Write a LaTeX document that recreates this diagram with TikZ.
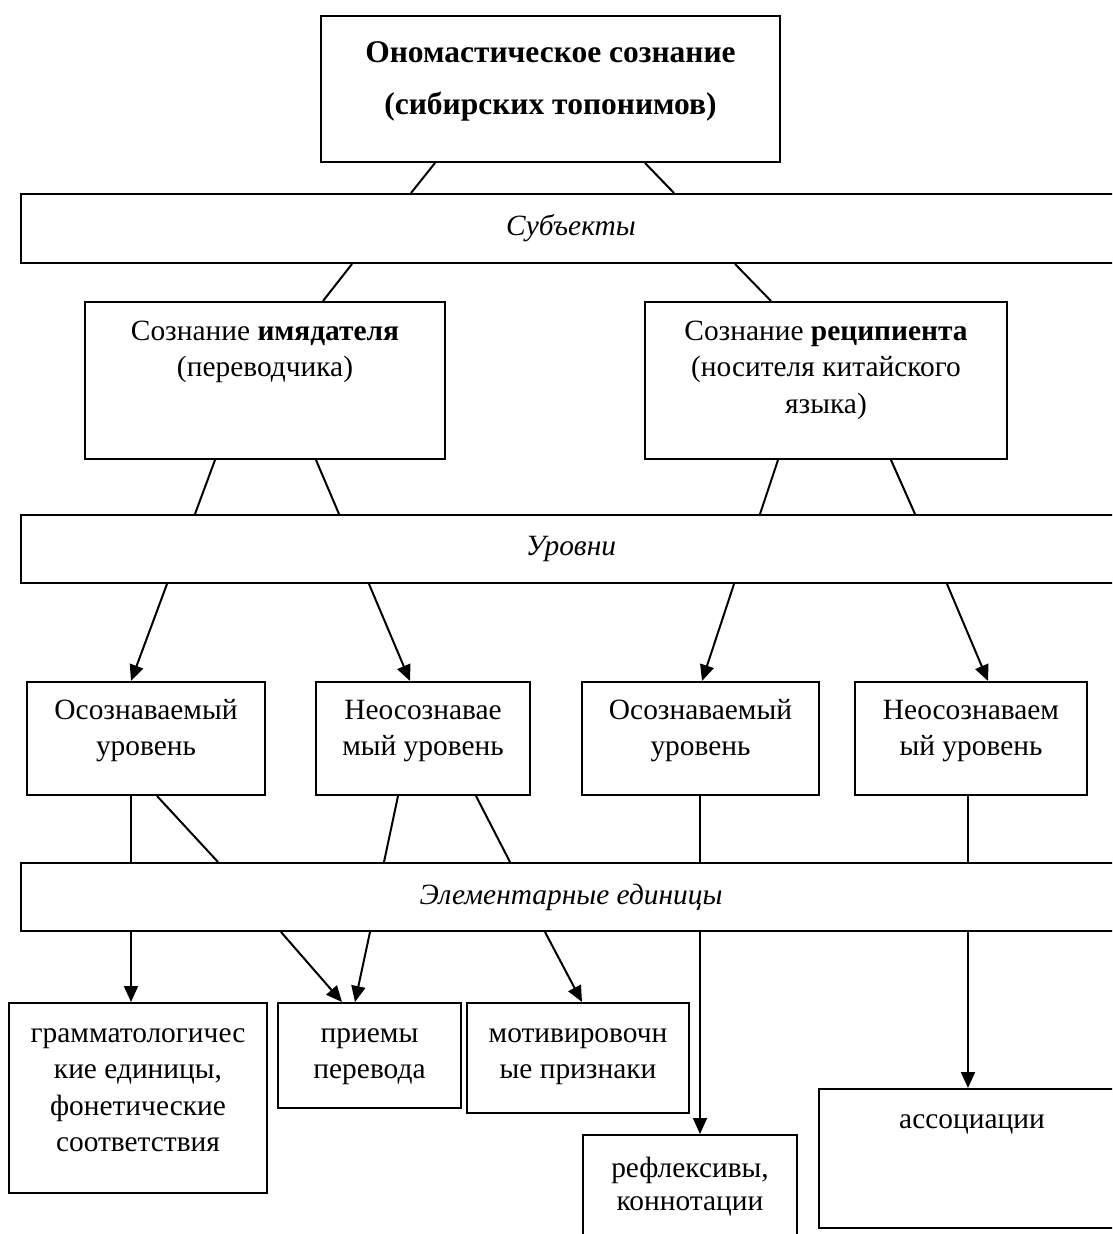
\documentclass[tikz,border=0pt]{standalone}
\usepackage{fontspec}
\setmainfont{Liberation Serif}
\usetikzlibrary{arrows.meta}
\newcommand{\fsz}{\fontsize{29.4pt}{36.5pt}\selectfont}
\newcommand{\fszr}{\fontsize{29.4pt}{33pt}\selectfont}
\newcommand{\fsbig}{\fontsize{31.5pt}{52pt}\selectfont\bfseries}
\begin{document}
\begin{tikzpicture}[x=1pt,y=-1pt,
  box/.style={draw,line width=2pt,rectangle,inner sep=0pt,fill=white},
  bar/.style={box,minimum width=1100pt,minimum height=68pt,font=\fsz\itshape},
  lbl/.style={inner sep=0pt,align=center,anchor=north,font=\fsz},
  conn/.style={line width=2pt},
  arr/.style={line width=2pt,-{Triangle[length=16pt,width=14pt]}}]
\useasboundingbox (0,0) rectangle (1112,1234);
\clip (0,0) rectangle (1112,1234);
\fill[white] (0,0) rectangle (1112,1234);
% boxes
\node[box,minimum width=459pt,minimum height=146pt] (top) at (550.5,89) {};
\node[bar,minimum height=69pt] (subj) at (571,228.5) {Субъекты};
\node[box,minimum width=360pt,minimum height=157pt] (imya) at (265,380.5) {};
\node[box,minimum width=362pt,minimum height=157pt] (recip) at (826,380.5) {};
\node[bar] (lev) at (571,549) {Уровни};
\node[box,minimum width=238pt,minimum height=113pt] (L1) at (146,738.5) {};
\node[box,minimum width=214pt,minimum height=113pt] (L2) at (423,738.5) {};
\node[box,minimum width=237pt,minimum height=113pt] (L3) at (700.5,738.5) {};
\node[box,minimum width=232pt,minimum height=113pt] (L4) at (971,738.5) {};
\node[bar] (elem) at (571,897) {Элементарные единицы};
\node[box,minimum width=258pt,minimum height=190pt] (G) at (138,1098) {};
\node[box,minimum width=183pt,minimum height=105pt] (P) at (369.5,1055.5) {};
\node[box,minimum width=222pt,minimum height=110pt] (M) at (578,1058) {};
\node[box,minimum width=214pt,minimum height=140pt] (R) at (690,1205) {};
\node[box,minimum width=306pt,minimum height=139pt] (A) at (972,1158.5) {};
% texts
\node[lbl,font=\fsbig] (topt) at (550.5,25.6) {\strut Ономастическое сознание\\(сибирских топонимов)};
\node[lbl] (imyat) at (265,314.5) {\strut Сознание \textbf{имядателя}\\(переводчика)};
\node[lbl] (recipt) at (826,314.5) {\strut Сознание \textbf{реципиента}\\(носителя китайского\\языка)};
\node[lbl] (L1t) at (146,693.5) {\strut Осознаваемый\\уровень};
\node[lbl] (L2t) at (423,693.5) {\strut Неосознавае\\мый уровень};
\node[lbl] (L3t) at (700.5,693.5) {\strut Осознаваемый\\уровень};
\node[lbl] (L4t) at (971,693.5) {\strut Неосознаваем\\ый уровень};
\node[lbl] (Gt) at (138,1016.5) {\strut грамматологичес\\кие единицы,\\фонетические\\соответствия};
\node[lbl] (Pt) at (369.5,1016.5) {\strut приемы\\перевода};
\node[lbl] (Mt) at (578,1016.5) {\strut мотивировочн\\ые признаки};
\node[lbl,font=\fszr] (Rt) at (690,1153.9) {\strut рефлексивы,\\коннотации};
\node[lbl] (At) at (972,1102.5) {\strut ассоциации};
% connectors
\draw[conn] ([xshift=-115.5pt]top.south) -- ([xshift=-160pt]subj.north);
\draw[conn] ([xshift=94.5pt]top.south) -- ([xshift=103pt]subj.north);
\draw[conn] ([xshift=-219pt]subj.south) -- ([xshift=58pt]imya.north);
\draw[conn] ([xshift=164pt]subj.south) -- ([xshift=-55pt]recip.north);
\draw[conn] ([xshift=-50pt]imya.south) -- ([xshift=-376pt]lev.north);
\draw[conn] ([xshift=51pt]imya.south) -- ([xshift=-232pt]lev.north);
\draw[conn] ([xshift=-48pt]recip.south) -- ([xshift=189pt]lev.north);
\draw[conn] ([xshift=65pt]recip.south) -- ([xshift=344pt]lev.north);
\draw[arr] ([xshift=-404pt]lev.south) -- ([xshift=-15pt]L1.north);
\draw[arr] ([xshift=-202pt]lev.south) -- ([xshift=-13pt]L2.north);
\draw[arr] ([xshift=163pt]lev.south) -- ([xshift=1.5pt]L3.north);
\draw[arr] ([xshift=376pt]lev.south) -- ([xshift=17pt]L4.north);
\draw[conn] ([xshift=-15pt]L1.south) -- ([xshift=-440pt]elem.north);
\draw[conn] ([xshift=11pt]L1.south) -- ([xshift=-353pt]elem.north);
\draw[conn] ([xshift=-25pt]L2.south) -- ([xshift=-187pt]elem.north);
\draw[conn] ([xshift=53pt]L2.south) -- ([xshift=-61pt]elem.north);
\draw[conn] ([xshift=-0.5pt]L3.south) -- ([xshift=129pt]elem.north);
\draw[conn] ([xshift=-3pt]L4.south) -- ([xshift=397pt]elem.north);
\draw[arr] ([xshift=-440pt]elem.south) -- ([xshift=-7pt]G.north);
\draw[arr] ([xshift=-290pt]elem.south) -- ([xshift=-27.5pt]P.north);
\draw[arr] ([xshift=-201pt]elem.south) -- ([xshift=-14.5pt]P.north);
\draw[arr] ([xshift=-26pt]elem.south) -- ([xshift=4pt]M.north);
\draw[arr] ([xshift=129pt]elem.south) -- ([xshift=10pt]R.north);
\draw[arr] ([xshift=397pt]elem.south) -- ([xshift=-4pt]A.north);
\end{tikzpicture}
\end{document}
